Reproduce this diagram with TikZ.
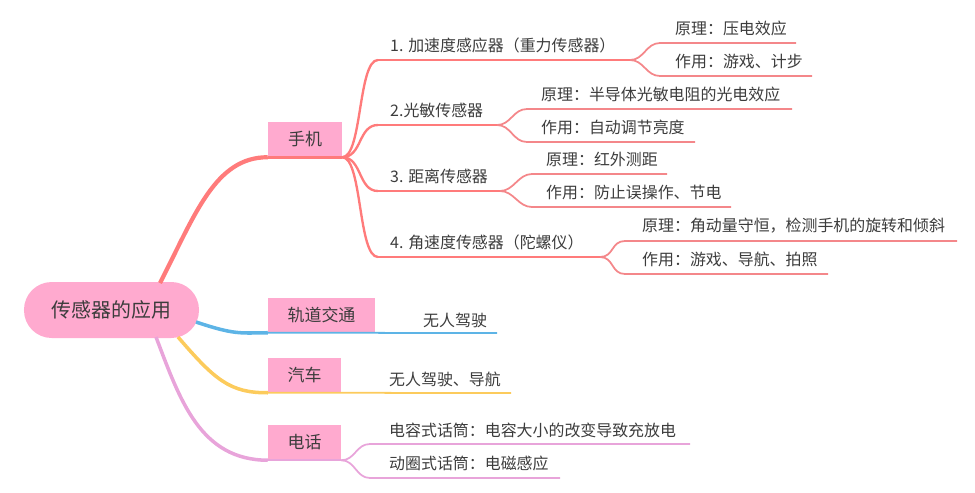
\documentclass[tikz,border=0pt]{standalone}
\usepackage{fontspec}
\setmainfont{Noto Sans CJK SC}
\definecolor{boxpink}{HTML}{FFAACF}
\definecolor{redline}{HTML}{FF7B7B}
\definecolor{leafred}{HTML}{F4878A}
\definecolor{blueline}{HTML}{5DB4E6}
\definecolor{yellowline}{HTML}{FCCB5C}
\definecolor{lilacline}{HTML}{E8A4DA}
\definecolor{txt}{HTML}{3C3C3C}
\tikzset{
  rootbox/.style={fill=boxpink, rounded corners=0.83cm, minimum width=5.25cm, minimum height=1.68cm, font=\fontsize{17}{20}\selectfont, text=txt},
  topicbox/.style={fill=boxpink, minimum height=1.05cm, font=\fontsize{14.5}{18}\selectfont, text=txt},
  leaf/.style={anchor=west, inner sep=0pt, font=\fontsize{13.6}{16}\selectfont, text=txt},
  mainbranch/.style={line width=3.6pt},
  subbranch/.style={line width=2pt, redline},
  underline/.style={line width=1.5pt}
}
\begin{document}
\begin{tikzpicture}[x=0.03cm, y=-0.03cm]
\useasboundingbox (0,0) rectangle (975,492);
\node[rootbox] (root) at (111.5,310){传感器的应用};
\node[topicbox, minimum width=2.22cm] (phone) at (305,139.5){手机};
\node[topicbox, minimum width=3.21cm] (rail) at (321.5,315){轨道交通};
\node[topicbox, minimum width=2.19cm] (car) at (304.5,375){汽车};
\node[topicbox, minimum width=2.19cm] (tel) at (304.5,442.5){电话};
\coordinate (r1) at (160,283);
\coordinate (r2) at (196,322);
\coordinate (r3) at (178,337);
\coordinate (r4) at (156,337);
\draw[mainbranch, redline](r1) .. controls (195,215) and (215,157) .. (phone.south west);
\draw[mainbranch, blueline, line width=3pt](r2) .. controls (235,335) and (240,333) .. (rail.south west);
\draw[mainbranch, yellowline, line width=3pt](r3) .. controls (215,380) and (230,393) .. (car.south west);
\draw[mainbranch, lilacline, line width=3pt](r4) .. controls (180,400) and (200,460) .. (tel.south west);
\draw[underline, redline, line width=2.4pt](phone.south west) -- (phone.south east);
\node[leaf] (c1) at (390,45){1. 加速度感应器（重力传感器）};
\node[leaf] (c2) at (390,110){2.光敏传感器};
\node[leaf] (c3) at (390,176){3. 距离传感器};
\node[leaf] (c4) at (390,242){4. 角速度传感器（陀螺仪）};
\coordinate (c1s) at (378,60);
\coordinate (c1e) at (630,60);
\coordinate (c2s) at (378,125);
\coordinate (c2e) at (497,125);
\coordinate (c3s) at (378,191);
\coordinate (c3e) at (500,191);
\coordinate (c4s) at (378,257);
\coordinate (c4e) at (600,257);
\draw[subbranch](phone.south east) .. controls +(20,0) and +(-20,0) .. (c1s);
\draw[subbranch](phone.south east) .. controls +(20,0) and +(-20,0) .. (c2s);
\draw[subbranch](phone.south east) .. controls +(20,0) and +(-20,0) .. (c3s);
\draw[subbranch](phone.south east) .. controls +(20,0) and +(-20,0) .. (c4s);
\draw[underline, redline](c1s) -- (c1e);
\draw[underline, redline](c2s) -- (c2e);
\draw[underline, redline](c3s) -- (c3e);
\draw[underline, redline](c4s) -- (c4e);
\node[leaf] (g11) at (675,28){原理：压电效应};
\node[leaf] (g12) at (675,61){作用：游戏、计步};
\node[leaf] (g21) at (541,94){原理：半导体光敏电阻的光电效应};
\node[leaf] (g22) at (541,127){作用：自动调节亮度};
\node[leaf] (g31) at (546,159){原理：红外测距};
\node[leaf] (g32) at (546,192){作用：防止误操作、节电};
\node[leaf] (g41) at (642,226){原理：角动量守恒，检测手机的旋转和倾斜};
\node[leaf] (g42) at (642,259){作用：游戏、导航、拍照};
\coordinate (g11s) at (660,43);
\coordinate (g11e) at (796,43);
\coordinate (g12s) at (660,76);
\coordinate (g12e) at (812,76);
\coordinate (g21s) at (527,109);
\coordinate (g21e) at (792,109);
\coordinate (g22s) at (527,142);
\coordinate (g22e) at (695,142);
\coordinate (g31s) at (532,174);
\coordinate (g31e) at (667,174);
\coordinate (g32s) at (532,207);
\coordinate (g32e) at (731,207);
\coordinate (g41s) at (625,241);
\coordinate (g41e) at (957,241);
\coordinate (g42s) at (625,274);
\coordinate (g42e) at (828,274);
\draw[underline, leafred](c1e) .. controls +(14,0) and +(-14,0) .. (g11s) -- (g11e);
\draw[underline, leafred](c1e) .. controls +(14,0) and +(-14,0) .. (g12s) -- (g12e);
\draw[underline, leafred](c2e) .. controls +(14,0) and +(-14,0) .. (g21s) -- (g21e);
\draw[underline, leafred](c2e) .. controls +(14,0) and +(-14,0) .. (g22s) -- (g22e);
\draw[underline, leafred](c3e) .. controls +(14,0) and +(-14,0) .. (g31s) -- (g31e);
\draw[underline, leafred](c3e) .. controls +(14,0) and +(-14,0) .. (g32s) -- (g32e);
\draw[underline, leafred](c4e) .. controls +(14,0) and +(-14,0) .. (g41s) -- (g41e);
\draw[underline, leafred](c4e) .. controls +(14,0) and +(-14,0) .. (g42s) -- (g42e);
\node[leaf] (rail1) at (423,320){无人驾驶};
\coordinate (rail1e) at (497,333);
\draw[underline, blueline](rail.south west) -- (rail1e);
\node[leaf] (car1) at (389,379){无人驾驶、导航};
\coordinate (car1e) at (511,393);
\draw[underline, yellowline](car.south west) -- (car1e);
\node[leaf] (tel1) at (389,430){电容式话筒：电容大小的改变导致充放电};
\node[leaf] (tel2) at (389,463){动圈式话筒：电磁感应};
\coordinate (tel1s) at (370,444);
\coordinate (tel1e) at (690,444);
\coordinate (tel2s) at (370,478);
\coordinate (tel2e) at (560,478);
\draw[underline, lilacline](tel.south west) -- (tel.south east);
\draw[underline, lilacline](tel.south east) .. controls +(14,0) and +(-14,0) .. (tel1s) -- (tel1e);
\draw[underline, lilacline](tel.south east) .. controls +(14,0) and +(-14,0) .. (tel2s) -- (tel2e);
\end{tikzpicture}
\end{document}
